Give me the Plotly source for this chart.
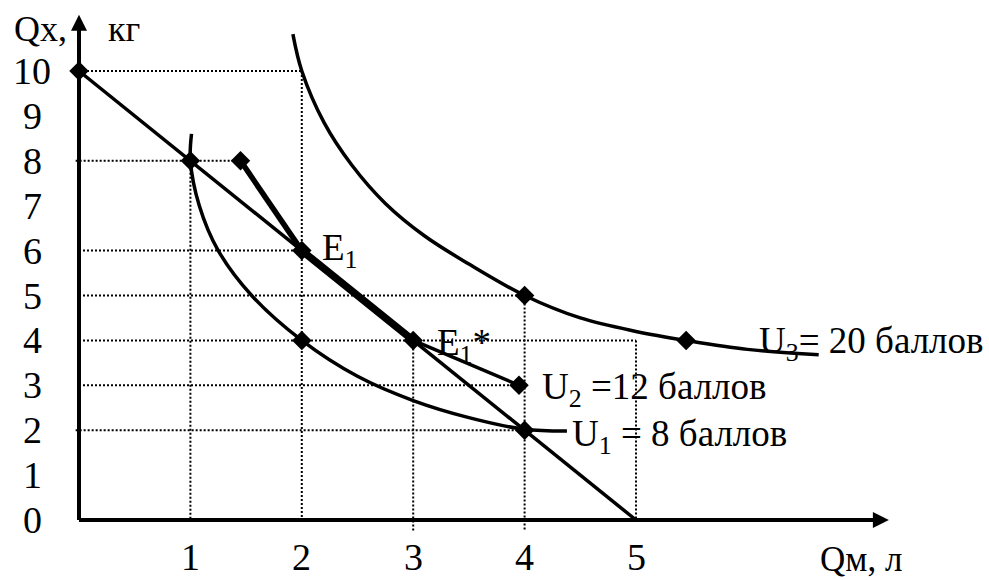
import plotly.graph_objects as go

# ---------------- data ----------------
budget_x = [0, 5]
budget_y = [10, 0]

u1_x = [1.01, 1.0, 1.08, 1.25, 1.55, 2.0, 2.5, 3.0, 3.5, 4.0, 4.38]
u1_y = [8.6, 8.0, 7.0, 6.0, 5.0, 4.0, 3.2, 2.66, 2.28, 2.02, 1.98]

u2_x = [1.45, 2, 3, 3.95]
u2_y = [8, 6, 4, 3]
u2_widths = [5.5, 7.5, 3.5]

u3_x = [1.92, 2.0, 2.2, 2.45, 2.75, 3.1, 3.5, 4.0, 4.5, 5.0, 5.45, 6.0, 6.64]
u3_y = [10.82, 10.0, 8.85, 7.9, 7.05, 6.33, 5.7, 5.0, 4.5, 4.2, 4.0, 3.8, 3.68]

points_x = [0, 1, 1.45, 2, 2, 3, 3.95, 4, 4, 5.45]
points_y = [10, 8, 8, 6, 4, 4, 3, 5, 2, 4]

# dotted guides: horizontal (y, x_from, x_to), vertical (x, y_top, y_bottom)
guides_h = [(10, 0, 2), (8, -0.03, 1.45), (6, 0, 2), (5, 0, 4), (4, 0, 5), (3, 0, 4), (2, -0.03, 4)]
guides_v = [(1, 8, 0), (2, 10, 0), (3, 4, -0.25), (4, 5, -0.25), (5, 4, 0)]

x_ticks = [1, 2, 3, 4, 5]
y_ticks = [0, 1, 2, 3, 4, 5, 6, 7, 8, 9, 10]

x_axis_end = 7.27
y_axis_end = 11.25

labels = [
    ("E<sub>1</sub>", 2.16, 6.0),
    ("E<sub>1</sub>*", 3.2, 3.88),
    ("U<sub>2</sub> =12 баллов", 4.14, 2.9),
    ("U<sub>1</sub> = 8 баллов", 4.41, 1.85),
    ("U<sub>3</sub>= 20 баллов", 6.09, 3.92),
]

FONT = "Liberation Serif, Times New Roman, serif"
FS_TICK = 38
FS_LAB = 37

fig = go.Figure()

# dotted guides
for (y, xa, xb) in guides_h:
    fig.add_trace(go.Scatter(x=[xa, xb], y=[y, y], mode="lines",
                             line=dict(color="black", width=2, dash="2px,2px"), hoverinfo="skip"))
for (x, ya, yb) in guides_v:
    fig.add_trace(go.Scatter(x=[x, x], y=[ya, yb], mode="lines",
                             line=dict(color="black", width=2, dash="2px,2px"), hoverinfo="skip"))

# axes
fig.add_trace(go.Scatter(x=[0, 0], y=[0, y_axis_end - 0.25], mode="lines",
                         line=dict(color="black", width=4), hoverinfo="skip"))
fig.add_trace(go.Scatter(x=[0, x_axis_end - 0.1], y=[0, 0], mode="lines",
                         line=dict(color="black", width=4), hoverinfo="skip"))
fig.add_trace(go.Scatter(x=[0], y=[y_axis_end], mode="markers",
                         marker=dict(symbol="arrow-up", size=16, color="black"), hoverinfo="skip"))
fig.add_trace(go.Scatter(x=[x_axis_end], y=[0], mode="markers",
                         marker=dict(symbol="arrow-right", size=16, color="black"), hoverinfo="skip"))

# budget line
fig.add_trace(go.Scatter(x=budget_x, y=budget_y, mode="lines",
                         line=dict(color="black", width=3.5), hoverinfo="skip"))

# indifference curves
fig.add_trace(go.Scatter(x=u1_x, y=u1_y, mode="lines", line_shape="spline",
                         line=dict(color="black", width=3.5, smoothing=1), hoverinfo="skip"))
fig.add_trace(go.Scatter(x=u3_x, y=u3_y, mode="lines", line_shape="spline",
                         line=dict(color="black", width=3.5, smoothing=1), hoverinfo="skip"))
for i, w in enumerate(u2_widths):
    fig.add_trace(go.Scatter(x=u2_x[i:i + 2], y=u2_y[i:i + 2], mode="lines",
                             line=dict(color="black", width=w), hoverinfo="skip"))

# diamonds
fig.add_trace(go.Scatter(x=points_x, y=points_y, mode="markers",
                         marker=dict(symbol="diamond", size=15, color="black"), hoverinfo="skip"))

annotations = []
for t in x_ticks:
    annotations.append(dict(x=t, y=-0.82, text=str(t), showarrow=False,
                            xanchor="center", yanchor="middle",
                            font=dict(family=FONT, size=FS_TICK, color="black")))
for t in y_ticks:
    annotations.append(dict(x=-0.42, y=t, text=str(t), showarrow=False,
                            xanchor="center", yanchor="middle",
                            font=dict(family=FONT, size=FS_TICK, color="black")))
for (txt, x, y) in labels:
    annotations.append(dict(x=x, y=y, text=txt, showarrow=False,
                            xanchor="left", yanchor="middle",
                            font=dict(family=FONT, size=FS_LAB, color="black")))
annotations.append(dict(x=-0.6, y=10.93, text="Qx,", showarrow=False, xanchor="left", yanchor="middle",
                        font=dict(family=FONT, size=36, color="black")))
annotations.append(dict(x=0.24, y=10.93, text="кг", showarrow=False, xanchor="left", yanchor="middle",
                        font=dict(family=FONT, size=36, color="black")))
annotations.append(dict(x=6.63, y=-0.87, text="Qм, л", showarrow=False, xanchor="left", yanchor="middle",
                        font=dict(family=FONT, size=35, color="black")))

fig.update_layout(
    width=989, height=580,
    margin=dict(l=0, r=0, t=0, b=0),
    paper_bgcolor="white", plot_bgcolor="white",
    showlegend=False,
    xaxis=dict(visible=False, range=[-0.7092, 8.1688]),
    yaxis=dict(visible=False, range=[-1.336, 11.581]),
    annotations=annotations,
)

fig.write_html("out.html", config={"displayModeBar": False},
               post_script="document.body.style.margin='0';document.body.style.overflow='hidden';")
